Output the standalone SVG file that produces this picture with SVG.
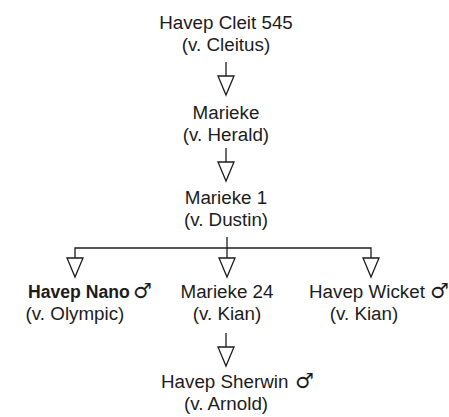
<svg xmlns="http://www.w3.org/2000/svg" width="449" height="417" viewBox="0 0 449 417">
  <defs>
    <style>
      text { font-family: "Liberation Sans", Arial, sans-serif; font-size: 18.8px; fill: #1c1c1c; }
      .c { text-anchor: middle; }
      .b { font-weight: bold; font-size: 17.6px; }
      .m { font-family: "DejaVu Sans", sans-serif; font-size: 21px; }
      .ln { stroke: #1c1c1c; stroke-width: 1.3; fill: none; }
      .tri { stroke: #1c1c1c; stroke-width: 1.3; fill: #ffffff; stroke-linejoin: miter; }
    </style>
  </defs>
  <rect width="449" height="417" fill="#ffffff"/>

  <g id="connectors">
    <line class="ln" x1="226" y1="62" x2="226" y2="76"/>
    <polygon class="tri" points="218,76 234,76 226,95"/>
    <line class="ln" x1="226" y1="148" x2="226" y2="162"/>
    <polygon class="tri" points="218,162 234,162 226,181"/>
    <line class="ln" x1="227" y1="237" x2="227" y2="258"/>
    <polyline class="ln" points="75,258 75,248 371,248 371,258"/>
    <polygon class="tri" points="67,258 83,258 75,277"/>
    <polygon class="tri" points="219,258 235,258 227,277"/>
    <polygon class="tri" points="363,258 379,258 371,277"/>
    <line class="ln" x1="226" y1="333" x2="226" y2="347"/>
    <polygon class="tri" points="218,347 234,347 226,366"/>
  </g>

  <g id="cleit">
    <text class="c" x="226" y="29">Havep Cleit 545</text>
    <text class="c" x="226" y="51">(v. Cleitus)</text>
  </g>
  <g id="marieke">
    <text class="c" x="226" y="119">Marieke</text>
    <text class="c" x="226" y="141">(v. Herald)</text>
  </g>
  <g id="marieke1">
    <text class="c" x="226" y="204">Marieke 1</text>
    <text class="c" x="226" y="226">(v. Dustin)</text>
  </g>
  <g id="nano">
    <text class="b" x="28" y="298">Havep Nano</text>
    <text class="m" x="133" y="298">♂</text>
    <text class="c" x="75" y="320">(v. Olympic)</text>
  </g>
  <g id="marieke24">
    <text class="c" x="227" y="298">Marieke 24</text>
    <text class="c" x="227" y="320">(v. Kian)</text>
  </g>
  <g id="wicket">
    <text x="309" y="298">Havep Wicket</text>
    <text class="m" x="430" y="298">♂</text>
    <text class="c" x="364" y="320">(v. Kian)</text>
  </g>
  <g id="sherwin">
    <text x="161" y="388">Havep Sherwin</text>
    <text class="m" x="295" y="388">♂</text>
    <text class="c" x="226" y="410">(v. Arnold)</text>
  </g>
</svg>
